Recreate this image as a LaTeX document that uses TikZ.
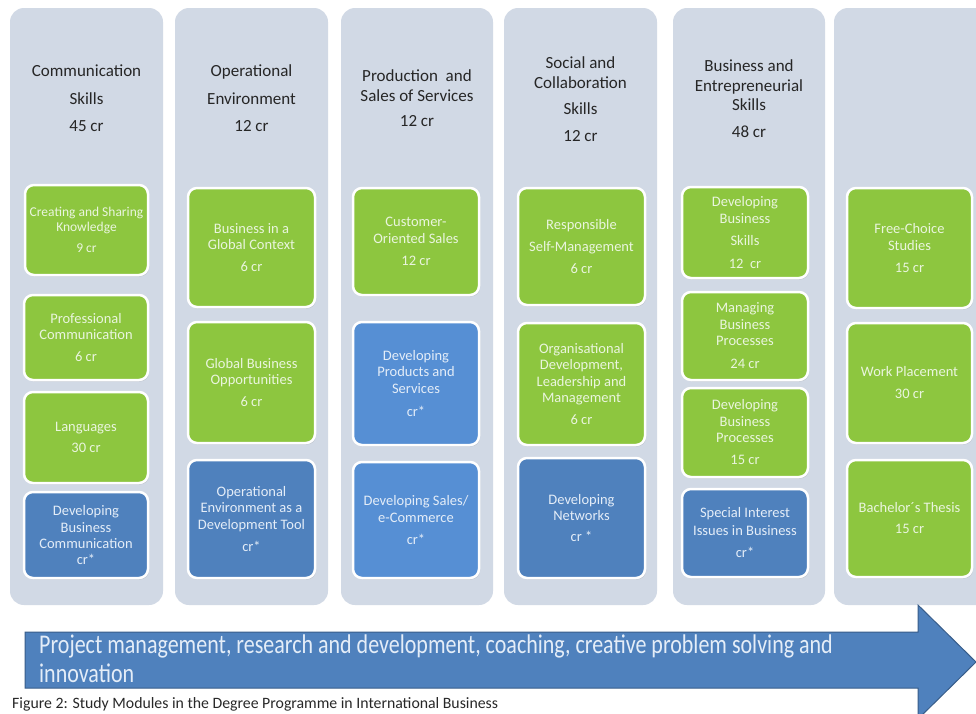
\documentclass[tikz,border=0pt]{standalone}
\usepackage{fontspec}
\setmainfont{Carlito}
\newfontfamily\arrowfont[FakeStretch=0.815]{Carlito}
\usetikzlibrary{shadows}
\definecolor{colbg}{RGB}{209,217,229}
\definecolor{grn}{RGB}{141,198,63}
\definecolor{blu}{RGB}{79,129,189}
\definecolor{lblu}{RGB}{86,143,212}
\definecolor{hdr}{RGB}{38,38,38}
\definecolor{gtxt}{RGB}{234,245,222}
\definecolor{btxt}{RGB}{228,237,248}
\definecolor{arrowedge}{RGB}{56,93,138}
\definecolor{captxt}{RGB}{40,40,40}
\tikzset{
  colbox/.style={fill=colbg, rounded corners=14pt, draw=none},
  modbox/.style={rounded corners=9pt, draw=white, line width=2.5pt, inner sep=2pt,
    align=center, font=\fontsize{14.5}{16.5}\selectfont,
    drop shadow={opacity=0.25, shadow xshift=1pt, shadow yshift=-1.5pt}},
  sz/.style 2 args={minimum width=#1pt, minimum height=#2pt},
  grnbox/.style={modbox, fill=grn, text=gtxt},
  blubox/.style={modbox, fill=blu, text=btxt},
  lblubox/.style={modbox, fill=lblu, text=btxt},
  header/.style={align=center, text=hdr, font=\fontsize{17}{20}\selectfont},
  arrowtext/.style={anchor=base west, text=btxt, inner sep=0pt, font=\arrowfont\fontsize{27}{29}\selectfont},
}
\begin{document}
\begin{tikzpicture}[x=1pt, y=-1pt]
\useasboundingbox (0,0) rectangle (976,713);
\clip (0,0) rectangle (976,713);
\fill[white] (0,0) rectangle (976,713);
% columns
\fill[colbox] (10,8) rectangle (163,605);
\fill[colbox] (175,8) rectangle (328,605);
\fill[colbox] (341,8) rectangle (493,605);
\fill[colbox] (504,8) rectangle (657,605);
\fill[colbox] (673,8) rectangle (825,605);
\fill[colbox] (834,8) rectangle (1000,605);
% headers
\node[header] (h1) at (86.5,98) {Communication\\[7.5pt]Skills\\[7pt]45 cr};
\node[header] (h2) at (251.5,98) {Operational\\[7.5pt]Environment\\[7pt]12 cr};
\node[header] (h3) at (417,98.5) {Production~ and\\Sales of Services\\[5pt]12 cr};
\node[header] (h4) at (580.5,99.5) {Social and\\Collaboration\\[6pt]Skills\\[7pt]12 cr};
\node[header] (h5) at (749,99) {Business and\\Entrepreneurial\\[-1pt]Skills\\[7pt]48 cr};
% column 1
\node[grnbox, sz={123}{90}, font=\fontsize{13.5}{14.5}\selectfont] (c1a) at (86.5,230) {Creating and Sharing\\Knowledge\\[6.5pt]9 cr};
\node[grnbox, sz={124}{85}] (c1b) at (86,337.5) {Professional\\Communication\\[5pt]6 cr};
\node[grnbox, sz={124}{91}] (c1c) at (86,437.5) {Languages\\[4pt]30 cr};
\node[blubox, sz={124}{86}] (c1d) at (86,535) {Developing\\Business\\Communication\\[-1pt]cr*};
% column 2
\node[grnbox, sz={127}{119}] (c2a) at (251.5,247.5) {Business in a\\Global Context\\[5.5pt]6 cr};
\node[grnbox, sz={127}{121}] (c2b) at (251.5,382.5) {Global Business\\Opportunities\\[5.5pt]6 cr};
\node[blubox, sz={127}{118}] (c2c) at (251.5,519) {Operational\\Environment as a\\Development Tool\\[5.5pt]cr*};
% column 3
\node[grnbox, sz={126}{107}] (c3a) at (416,241.5) {Customer-\\[0.5pt]Oriented Sales\\[6pt]12 cr};
\node[lblubox, sz={126}{123}] (c3b) at (416,383.5) {Developing\\Products and\\Services\\[7pt]cr*};
\node[lblubox, sz={126}{116}] (c3c) at (416,520) {Developing Sales/\\e-Commerce\\[5.5pt]cr*};
% column 4
\node[grnbox, sz={127}{117}] (c4a) at (581.5,246.5) {Responsible\\[5pt]Self-Management\\[5.5pt]6 cr};
\node[grnbox, sz={127}{122}] (c4b) at (581.5,384) {Organisational\\Development,\\Leadership and\\Management\\[5.5pt]6 cr};
\node[blubox, sz={127}{120}] (c4c) at (581.5,518) {Developing\\Networks\\[4.5pt]cr *};
% column 5
\node[grnbox, sz={126}{91}] (c5a) at (745,232.5) {Developing\\Business\\[5.5pt]Skills\\[6.5pt]12~ cr};
\node[grnbox, sz={126}{88}] (c5b) at (745,336) {Managing\\Business\\Processes\\[6.5pt]24 cr};
\node[grnbox, sz={126}{89}] (c5c) at (745,432.5) {Developing\\Business\\Processes\\[5.5pt]15 cr};
\node[blubox, sz={126}{88}] (c5d) at (745,533) {Special Interest\\[1.5pt]Issues in Business\\[5.5pt]cr*};
% column 6
\node[grnbox, sz={125}{120}] (c6a) at (909.5,248) {Free-Choice\\Studies\\[5.5pt]15 cr};
\node[grnbox, sz={125}{120}] (c6b) at (909.5,383) {Work Placement\\[5.5pt]30 cr};
\node[grnbox, sz={125}{117}] (c6c) at (909.5,518.5) {Bachelor´s Thesis\\[4.5pt]15 cr};
% arrow
\filldraw[fill=blu, draw=arrowedge, line width=1pt, line join=miter]
  (25,632) -- (918,632) -- (918,605) -- (976,662) -- (918,719) -- (918,688) -- (25,688) -- cycle;
\node[arrowtext] (at1) at (39,653) {Project management, research and development, coaching, creative problem solving and};
\node[arrowtext] (at2) at (39,682) {innovation};
% caption
\node[anchor=base west, inner sep=0pt, text=captxt, font=\fontsize{15.8}{17}\selectfont] (cap) at (12,708.5) {Figure 2: Study Modules in the Degree Programme in International Business};
\end{tikzpicture}
\end{document}
